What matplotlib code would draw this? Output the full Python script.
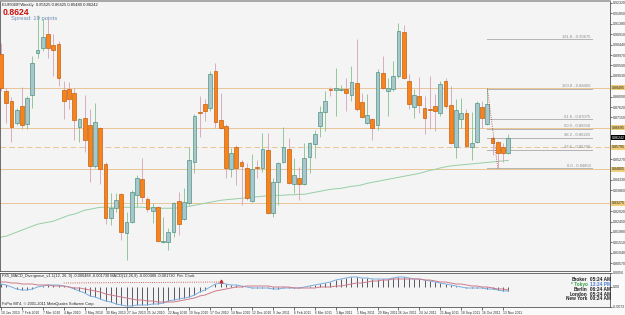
#!/usr/bin/env python3
"""EURGBP weekly candles with MA, fib levels and MACD panel (MT4 style)."""
import matplotlib
matplotlib.use("Agg")
import matplotlib.pyplot as plt
import numpy as np
from matplotlib.transforms import blended_transform_factory

plt.rcParams["font.family"] = ["Liberation Sans", "DejaVu Sans"]

# --- data (weekly bars, 10 Jan 2010 .. 20 Nov 2011) ---
OPEN = [0.90025, 0.88360, 0.87910, 0.86920, 0.87685, 0.86875, 0.88180, 0.90070, 0.90295, 0.90925,
        0.90430, 0.90475, 0.88405, 0.88450, 0.88270, 0.86740, 0.87145, 0.86830, 0.84940, 0.86695,
        0.85030, 0.82600, 0.83050, 0.83680, 0.81925, 0.82420, 0.83635, 0.84355, 0.83455, 0.82915,
        0.83095, 0.81520, 0.81520, 0.81970, 0.83365, 0.82555, 0.83275, 0.85120, 0.87415, 0.87775,
        0.87595, 0.89260, 0.87055, 0.86785, 0.84805, 0.85795, 0.85120, 0.84850, 0.83365, 0.84895,
        0.84850, 0.85660, 0.82825, 0.84220, 0.85120, 0.85705, 0.84130, 0.84400, 0.84130, 0.85345,
        0.85930, 0.86785, 0.87415, 0.88450, 0.88405, 0.88405, 0.88450, 0.88180, 0.88720, 0.87865,
        0.86920, 0.87100, 0.86830, 0.89170, 0.88360, 0.88450, 0.89035, 0.91015, 0.88810, 0.87640,
        0.88135, 0.87595, 0.87550, 0.87685, 0.87370, 0.88810, 0.87730, 0.85795, 0.87100, 0.87370,
        0.85795, 0.86020, 0.87640, 0.86875, 0.86200, 0.86020, 0.85795, 0.85525]
HIGH = [0.90520, 0.88495, 0.88090, 0.87595, 0.88540, 0.88135, 0.89935, 0.91780, 0.91600, 0.91600,
        0.90925, 0.90610, 0.88810, 0.88765, 0.88495, 0.87145, 0.88180, 0.87550, 0.87820, 0.86740,
        0.85120, 0.83725, 0.83725, 0.83725, 0.82870, 0.83860, 0.84535, 0.85300, 0.83545, 0.83275,
        0.83140, 0.82645, 0.82150, 0.83320, 0.83770, 0.83950, 0.85795, 0.87325, 0.88135, 0.88000,
        0.89260, 0.89620, 0.88270, 0.86875, 0.85750, 0.85885, 0.85210, 0.85075, 0.85480, 0.85210,
        0.86470, 0.86470, 0.84400, 0.85120, 0.86740, 0.86200, 0.85300, 0.84895, 0.85975, 0.86020,
        0.86605, 0.87685, 0.88360, 0.88540, 0.89395, 0.88630, 0.88945, 0.89485, 0.90700, 0.88270,
        0.88225, 0.87145, 0.89350, 0.89935, 0.88945, 0.89710, 0.91420, 0.91330, 0.89125, 0.88450,
        0.88990, 0.88135, 0.89035, 0.88225, 0.88810, 0.88945, 0.88585, 0.88000, 0.88045, 0.87550,
        0.87415, 0.87910, 0.87910, 0.88450, 0.86335, 0.86065, 0.85975, 0.86425]
LOW = [0.88360, 0.86920, 0.86020, 0.86830, 0.86650, 0.86650, 0.87595, 0.89845, 0.90160, 0.89845,
       0.89035, 0.88585, 0.87100, 0.87550, 0.86110, 0.86020, 0.85570, 0.84220, 0.84850, 0.84130,
       0.82330, 0.82285, 0.82870, 0.81610, 0.80710, 0.82375, 0.83095, 0.83320, 0.82870, 0.82375,
       0.81520, 0.81475, 0.81160, 0.81745, 0.81835, 0.82510, 0.83185, 0.84625, 0.86245, 0.87010,
       0.87460, 0.86695, 0.86650, 0.84400, 0.84445, 0.84085, 0.83185, 0.83410, 0.83320, 0.84400,
       0.84670, 0.82780, 0.82645, 0.83185, 0.85075, 0.84130, 0.83725, 0.83410, 0.84085, 0.84625,
       0.85300, 0.86245, 0.86560, 0.88135, 0.87235, 0.88360, 0.87460, 0.87910, 0.87460, 0.87145,
       0.86875, 0.86110, 0.86605, 0.88450, 0.87235, 0.88360, 0.88945, 0.88900, 0.87550, 0.87145,
       0.87370, 0.86425, 0.86650, 0.86560, 0.87235, 0.87595, 0.85930, 0.85300, 0.86695, 0.85795,
       0.85210, 0.85975, 0.86695, 0.86830, 0.85435, 0.84850, 0.85120, 0.85480]
CLOSE = [0.88495, 0.87820, 0.86740, 0.87505, 0.86830, 0.88045, 0.89620, 0.90205, 0.90790, 0.90295,
         0.90205, 0.88945, 0.87910, 0.88000, 0.87055, 0.87100, 0.86110, 0.84940, 0.86965, 0.84805,
         0.82600, 0.83050, 0.83410, 0.81970, 0.82420, 0.83770, 0.84400, 0.83545, 0.83005, 0.83095,
         0.81565, 0.81565, 0.81970, 0.83275, 0.82330, 0.83320, 0.85210, 0.87235, 0.87370, 0.87460,
         0.89125, 0.86965, 0.86695, 0.84850, 0.85525, 0.84850, 0.84940, 0.83500, 0.84805, 0.84850,
         0.85705, 0.82825, 0.84220, 0.85075, 0.85795, 0.84175, 0.84535, 0.84130, 0.85300, 0.85975,
         0.86425, 0.87415, 0.87910, 0.88405, 0.88495, 0.88450, 0.88270, 0.88765, 0.87550, 0.87190,
         0.87280, 0.86695, 0.89215, 0.88495, 0.88495, 0.89035, 0.91060, 0.88945, 0.87775, 0.88180,
         0.87730, 0.87145, 0.87505, 0.87460, 0.88675, 0.87685, 0.85975, 0.87505, 0.87370, 0.85840,
         0.85975, 0.87820, 0.87145, 0.87775, 0.85975, 0.85525, 0.85525, 0.86242]
MA = [0.81745, 0.81790, 0.81880, 0.81970, 0.82060, 0.82150, 0.82240, 0.82330, 0.82375, 0.82420,
      0.82465, 0.82555, 0.82645, 0.82735, 0.82780, 0.82870, 0.82960, 0.83005, 0.83050, 0.83095,
      0.83095, 0.83095, 0.83095, 0.83095, 0.83095, 0.83095, 0.83095, 0.83095, 0.83072, 0.83050,
      0.83050, 0.83050, 0.83050, 0.83050, 0.83072, 0.83095, 0.83140, 0.83185, 0.83230, 0.83275,
      0.83320, 0.83365, 0.83410, 0.83432, 0.83455, 0.83477, 0.83500, 0.83522, 0.83545, 0.83567,
      0.83590, 0.83612, 0.83612, 0.83635, 0.83635, 0.83657, 0.83657, 0.83680, 0.83680, 0.83725,
      0.83770, 0.83815, 0.83860, 0.83905, 0.83927, 0.83950, 0.83995, 0.84040, 0.84062, 0.84107,
      0.84175, 0.84220, 0.84265, 0.84310, 0.84355, 0.84400, 0.84445, 0.84490, 0.84535, 0.84580,
      0.84625, 0.84692, 0.84760, 0.84805, 0.84872, 0.84917, 0.84962, 0.84985, 0.85007, 0.85030,
      0.85052, 0.85075, 0.85097, 0.85120, 0.85142, 0.85165, 0.85187, 0.85210]
MACD = [0.00108, 0.00072, 0.0, -0.00072, -0.00108, -0.00108, -0.00072, 0.0, 0.00036, 0.00072,
        0.00072, 0.00072, 0.00036, 0.0, -0.00072, -0.00144, -0.00216, -0.00324, -0.00360, -0.00432,
        -0.00504, -0.00540, -0.00612, -0.00648, -0.00684, -0.00684, -0.00648, -0.00648, -0.00648, -0.00612,
        -0.00612, -0.00576, -0.00504, -0.00468, -0.00432, -0.00396, -0.00360, -0.00288, -0.00180, -0.00108,
        0.0, 0.00108, 0.00144, 0.00108, 0.00072, 0.00072, 0.00036, 0.0, -0.00036, -0.00036,
        -0.00036, -0.00036, -0.00072, -0.00072, -0.00036, -0.00036, -0.00036, -0.00036, 0.0, 0.00036,
        0.00072, 0.00108, 0.00144, 0.00180, 0.00252, 0.00288, 0.00324, 0.00360, 0.00360, 0.00324,
        0.00324, 0.00288, 0.00288, 0.00288, 0.00288, 0.00324, 0.00360, 0.00360, 0.00324, 0.00288,
        0.00288, 0.00252, 0.00216, 0.00180, 0.00144, 0.00108, 0.00072, 0.00036, 0.0, -0.00036,
        -0.00036, -0.00036, -0.00036, -0.00072, -0.00072, -0.00108, -0.00144, -0.00144]
SIGNAL = [0.00180, 0.00180, 0.00144, 0.00144, 0.00108, 0.00108, 0.00108, 0.00072, 0.00072, 0.00072,
          0.00036, 0.00036, 0.00036, 0.0, -0.00036, -0.00036, -0.00072, -0.00108, -0.00144, -0.00180,
          -0.00252, -0.00288, -0.00324, -0.00360, -0.00396, -0.00432, -0.00468, -0.00468, -0.00504, -0.00504,
          -0.00540, -0.00540, -0.00540, -0.00540, -0.00504, -0.00468, -0.00432, -0.00396, -0.00324, -0.00288,
          -0.00216, -0.00144, -0.00108, -0.00072, -0.00036, 0.0, 0.0, 0.00036, 0.00036, 0.00036,
          0.00036, 0.00036, 0.0, 0.0, 0.0, 0.0, -0.00036, -0.00036, -0.00036, -0.00036,
          -0.00036, 0.0, 0.0, 0.0, 0.00036, 0.00036, 0.00072, 0.00108, 0.00144, 0.00144,
          0.00180, 0.00216, 0.00216, 0.00252, 0.00252, 0.00288, 0.00288, 0.00288, 0.00288, 0.00288,
          0.00288, 0.00252, 0.00252, 0.00216, 0.00180, 0.00180, 0.00144, 0.00108, 0.00108, 0.00072,
          0.00036, 0.00036, 0.0, 0.0, -0.00036, -0.00072, -0.00072, -0.00108]

H_LEVELS = [0.88495, 0.86695, 0.85795, 0.84805, 0.83275]
H_DASHED = [False, False, True, False, False]
FIB_START, FIB_END = 93, 95          # bar indices of the fib anchor points
FIB_HIGH, FIB_LOW = 0.88450, 0.84850
FIB_RATIOS = [0.0, 23.6, 38.2, 50.0, 61.8, 100.0, 161.8]
DIV_IDX = [12, 42]
DIV_VAL = [0.00144, 0.00180]

DATE_LABELS = ["10 Jan 2010", "7 Feb 2010", "7 Mar 2010", "4 Apr 2010", "2 May 2010",
               "30 May 2010", "27 Jun 2010", "25 Jul 2010", "22 Aug 2010", "19 Sep 2010",
               "17 Oct 2010", "14 Nov 2010", "12 Dec 2010", "9 Jan 2011", "6 Feb 2011",
               "6 Mar 2011", "3 Apr 2011", "1 May 2011", "29 May 2011", "26 Jun 2011",
               "24 Jul 2011", "21 Aug 2011", "18 Sep 2011", "16 Oct 2011", "13 Nov 2011"]
CLOCK_CITIES = ["Broker", "* Tokyo", "Berlin", "London", "New York"]
CLOCK_TIMES = ["05:24 AM", "13:24 PM", "06:24 AM", "05:24 AM", "00:24 AM"]

# --- colours ---
BG = "#f4f4f4"
BODY_UP, EDGE_UP, WICK_UP = "#a9c7cb", "#4f9483", "#86c08c"
BODY_DN, EDGE_DN, WICK_DN = "#f5841f", "#c8600e", "#d2a2b6"
LEVEL_C = "#e8c597"
FIB_C = "#b4b4b4"

W, H = 625, 315
fig = plt.figure(figsize=(W / 100, H / 100), dpi=100, facecolor="#fafafa")


def px_axes(x0, y0, x1, y1):
    return fig.add_axes([x0 / W, 1 - y1 / H, (x1 - x0) / W, (y1 - y0) / H])


ax = px_axes(0, 1, 610, 271)
axm = px_axes(0, 273, 610, 307)

idx = np.arange(len(OPEN))
o, hi, lo, c = (np.array(v) for v in (OPEN, HIGH, LOW, CLOSE))
up = c >= o
xlim = (-0.19, 116.45)

# --- main chart ---
ax.set_facecolor(BG)
for lvl, dashed in zip(H_LEVELS, H_DASHED):
    ax.axhline(lvl, color=LEVEL_C, lw=0.7, ls=(0, (6, 3)) if dashed else "-", zorder=1)

ax.plot(idx, MA, color="#95cfa4", lw=0.7, zorder=2)

ax.vlines(idx[up], lo[up], hi[up], color=WICK_UP, lw=0.6, zorder=3)
ax.vlines(idx[~up], lo[~up], hi[~up], color=WICK_DN, lw=0.6, zorder=3)
body_lo = np.minimum(o, c)
body_h = np.maximum(np.abs(c - o), 0.00012)
ax.bar(idx[up], body_h[up], bottom=body_lo[up], width=0.72, color=BODY_UP,
       edgecolor=EDGE_UP, lw=0.5, zorder=4)
ax.bar(idx[~up], body_h[~up], bottom=body_lo[~up], width=0.72, color=BODY_DN,
       edgecolor=EDGE_DN, lw=0.5, zorder=4)

# fibonacci retracement
fib_right = 113.0
ax.plot([FIB_START, FIB_END], [FIB_HIGH, FIB_LOW], color="#b03a3a", lw=0.6, ls=":", zorder=5)
for r in FIB_RATIOS:
    p = FIB_LOW + r / 100.0 * (FIB_HIGH - FIB_LOW)
    ax.plot([FIB_START, fib_right], [p, p], color=FIB_C, lw=0.7, zorder=2)
    ax.text(fib_right - 0.3, p + 0.0002, f"{r:.1f} - {p:.5f}", fontsize=3.0,
            color="#8c8c8c", ha="right", va="bottom", zorder=6)

ax.set_xlim(*xlim)
ax.set_ylim(0.80215, 0.92410)
ax.set_xticks([])
ax.yaxis.tick_right()
marked = H_LEVELS + [CLOSE[-1]]
ticks = [t for t in np.arange(0.92320, 0.8010, -0.00470)
         if min(abs(t - m) for m in marked) > 0.0021]
ax.set_yticks(ticks)
ax.yaxis.set_major_formatter(matplotlib.ticker.FormatStrFormatter("%.5f"))
ax.tick_params(axis="y", labelsize=2.6, length=1.5, width=0.5, pad=0.6, colors="#333333")
for s in ax.spines.values():
    s.set_color("#555555")
    s.set_linewidth(0.6)
ax.spines["top"].set_color("#9a9a9a")
ax.spines["top"].set_linewidth(1.2)

tr = blended_transform_factory(ax.transAxes, ax.transData)
for lvl in H_LEVELS:
    ax.text(1.003, lvl, f"{lvl:.5f}", transform=tr, fontsize=2.6, va="center", ha="left",
            color="#222222", bbox=dict(boxstyle="square,pad=0.15", fc="#f0cf7a", ec="none"),
            zorder=10, clip_on=False)
ax.text(1.003, CLOSE[-1], f"{CLOSE[-1]:.5f}", transform=tr, fontsize=2.6, va="center",
        ha="left", color="white", bbox=dict(boxstyle="square,pad=0.15", fc="black", ec="none"),
        zorder=11, clip_on=False)

# header texts
ax.text(0.004, 0.992, f"EURGBP,Weekly  {OPEN[-1]:.5f} {HIGH[-1]:.5f} {LOW[-1]:.5f} {CLOSE[-1]:.5f}",
        transform=ax.transAxes, fontsize=3.0, va="top", ha="left", color="#222222")
ax.text(0.004, 0.975, f"{CLOSE[-1]:.4f}", transform=ax.transAxes, fontsize=6.2,
        fontweight="bold", va="top", ha="left", color="#cc1010")
ax.text(0.018, 0.945, "Spread: 19 points", transform=ax.transAxes, fontsize=4.2,
        va="top", ha="left", color="#6f8fb3")

# --- MACD panel ---
axm.set_facecolor(BG)
axm.vlines(idx, 0, MACD, color="#1a1a2a", lw=0.5, zorder=2)
axm.plot(idx, MACD, color="#79aee0", lw=0.7, zorder=3)
axm.plot(idx, SIGNAL, color="#d07a8a", lw=0.7, zorder=3)
axm.plot(DIV_IDX, DIV_VAL, color="#c03030", lw=0.6, ls=":", zorder=4)
axm.plot(DIV_IDX[-1], DIV_VAL[-1] + 0.0002, marker="^", ms=2, color="#c03030", zorder=4)
axm.set_xlim(*xlim)
axm.set_ylim(-0.0072, 0.00504)
axm.yaxis.tick_right()
axm.set_yticks([0.00504, 0.0, -0.0072])
axm.set_yticklabels(["0.0050", "0.00", "-0.0072"])
axm.tick_params(axis="y", labelsize=2.6, length=1.5, width=0.5, pad=0.6, colors="#333333")
axm.set_xticks(idx[::4])
axm.set_xticklabels(DATE_LABELS, ha="left")
axm.tick_params(axis="x", labelsize=2.45, length=2, width=0.5, pad=0.8, colors="#333333")
for s in axm.spines.values():
    s.set_color("#555555")
    s.set_linewidth(0.6)

axm.text(0.004, 0.96, "FX5_MACD_Divergence_v1.1(12, 26, 9) -0.000488 -0.001730 "
         "MACD(12,26,9) -0.000488 -0.001730  Pet: Clock",
         transform=axm.transAxes, fontsize=2.8, va="top", ha="left", color="#222222")
axm.text(0.004, 0.04, "FxPro MT4, \u00a9 2001-2011 MetaQuotes Software Corp.",
         transform=axm.transAxes, fontsize=2.8, va="bottom", ha="left", color="#222222")

for k, (city, t) in enumerate(zip(CLOCK_CITIES, CLOCK_TIMES)):
    yy = 0.80 - k * 0.14
    col = "#3aa04a" if "Tokyo" in city else "#222222"
    tcol = "#4a7fd0" if "Tokyo" in city else "#222222"
    axm.text(0.963, yy, city, transform=axm.transAxes, fontsize=3.4, fontweight="bold",
             ha="right", va="center", color=col)
    axm.text(0.968, yy, t, transform=axm.transAxes, fontsize=3.4, fontweight="bold",
             ha="left", va="center", color=tcol)

fig.savefig("out.png", dpi=100, facecolor=fig.get_facecolor())
